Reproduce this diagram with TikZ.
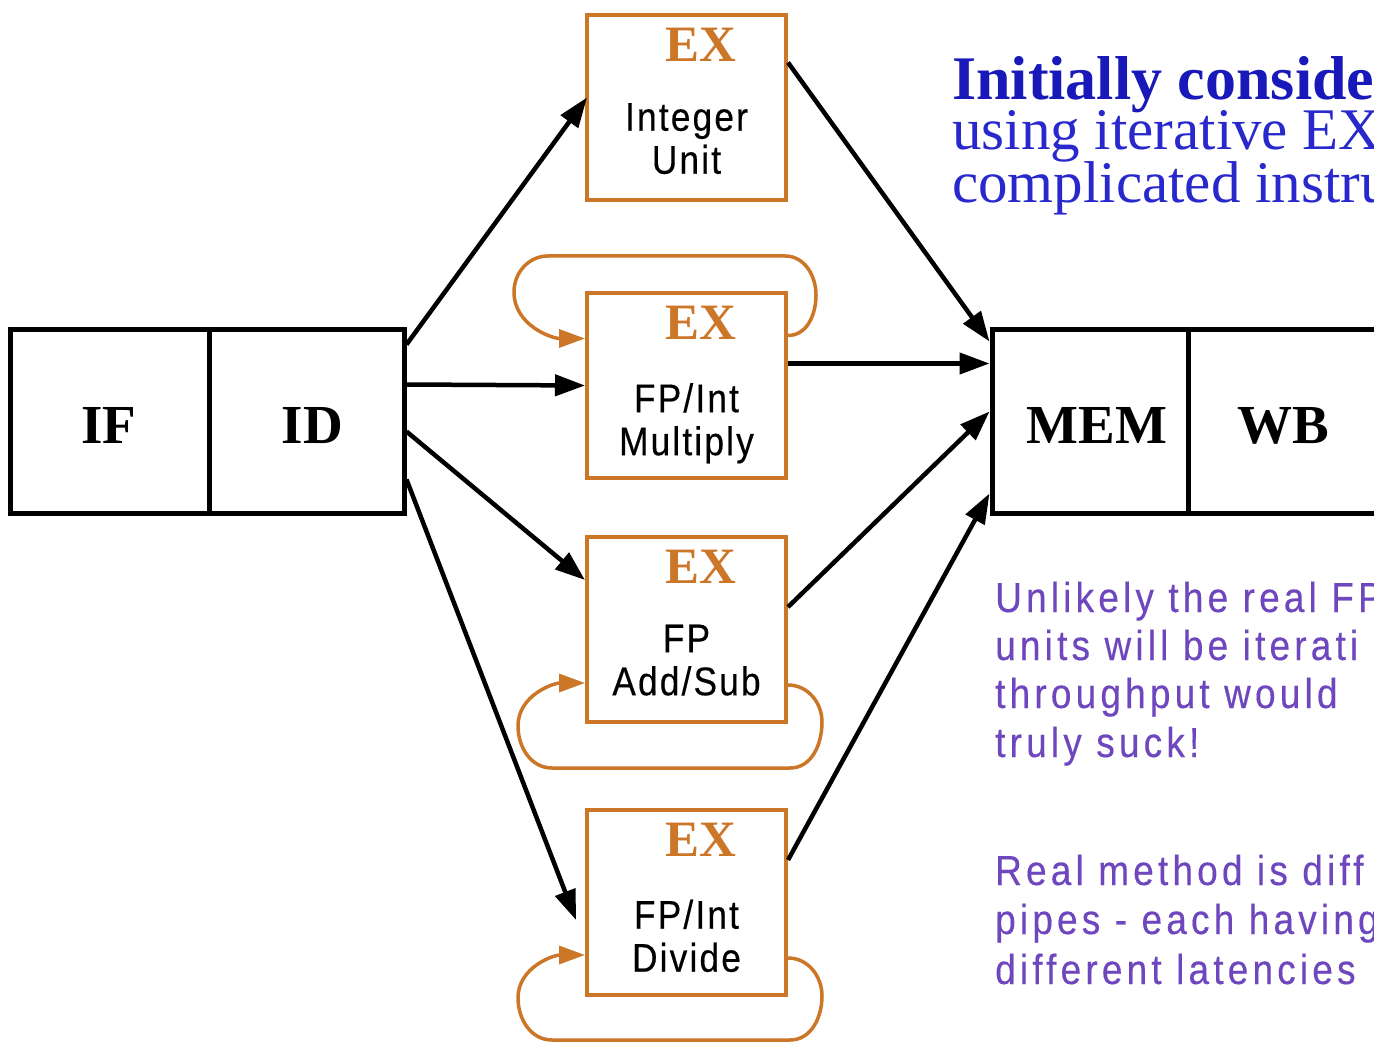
\documentclass[tikz,border=0pt]{standalone}
\usepackage{fontspec}
\setmainfont{Liberation Serif}
\newfontfamily\lblfont[LetterSpace=5.5,FakeStretch=0.88,FakeBold=0.4]{Liberation Sans}
\newfontfamily\purfont[LetterSpace=10,FakeStretch=0.88,FakeBold=0.3]{Liberation Sans}
\usetikzlibrary{arrows.meta,calc}
\definecolor{exor}{RGB}{204,118,40}
\definecolor{txtblue}{RGB}{25,25,185}
\definecolor{txtblue2}{RGB}{40,40,205}
\definecolor{txtpurple}{RGB}{110,70,190}
\begin{document}
\begin{tikzpicture}[x=1pt,y=-1pt,
  stage/.style={draw=black,line width=5pt,minimum height=183pt,inner sep=0pt},
  stagelbl/.style={anchor=north,inner sep=0pt,font=\fontsize{55}{60}\selectfont\bfseries},
  exbox/.style={draw=exor,line width=4pt,minimum width=199pt,minimum height=185pt,inner sep=0pt},
  extxt/.style={anchor=north,inner sep=0pt,text=exor,font=\fontsize{51}{55}\selectfont\bfseries},
  unitlbl/.style={anchor=north,inner sep=0pt,align=center,font=\lblfont\fontsize{40}{43}\selectfont},
  conn/.style={line width=4.5pt,-{Triangle[length=30pt,width=21pt]}},
  loopc/.style={draw=exor,line width=3.5pt,-{Triangle[length=26pt,width=18pt]}},
  bluebold/.style={anchor=base west,inner sep=0pt,text=txtblue,font=\fontsize{62}{60}\selectfont\bfseries},
  bluereg/.style={anchor=base west,inner sep=0pt,text=txtblue2,font=\fontsize{59}{60}\selectfont},
  purp/.style={anchor=base west,inner sep=0pt,text=txtpurple,font=\purfont\fontsize{42}{48}\selectfont}
]
\useasboundingbox (0,0) rectangle (1374,1048);
\clip (0,0) rectangle (1374,1048);
\fill[white] (0,0) rectangle (1374,1048);

% pipeline stages
\node[stage,minimum width=199pt] (IF) at (109.5,421.5) {};
\node[stage,minimum width=195pt] (ID) at (306.5,421.5) {};
\node[stage,minimum width=196pt] (MEM) at (1090,421.5) {};
\node[stage,minimum width=198pt] (WB) at (1287,421.5) {};
\node[stagelbl] (IFt) at ($(IF.north)+(-1,80)$) {IF};
\node[stagelbl] (IDt) at ($(ID.north)+(6,80)$) {ID};
\node[stagelbl] (MEMt) at ($(MEM.north)+(7,80)$) {MEM};
\node[stagelbl] (WBt) at ($(WB.north)+(-4,80)$) {WB};

% EX units
\node[exbox] (INT) at (686.5,107.5) {};
\node[exbox] (MUL) at (686.5,385.5) {};
\node[exbox] (ADD) at (686.5,629) {};
\node[exbox] (DIV) at (686.5,902) {};
\foreach \b in {INT,MUL,ADD,DIV}{
  \node[extxt] (\b ex) at ($(\b.north)+(14,15)$) {EX};
}
\node[unitlbl] (INTl) at ($(INT.north)+(0,90)$) {Integer\\Unit};
\node[unitlbl] (MULl) at ($(MUL.north)+(0,92)$) {FP/Int\\Multiply};
\node[unitlbl] (ADDl) at ($(ADD.north)+(0,90)$) {FP\\Add/Sub};
\node[unitlbl] (DIVl) at ($(DIV.north)+(0,92)$) {FP/Int\\Divide};

% ID -> EX
\draw[conn] ($(ID.east)+(0,-77)$) -- ($(INT.west)+(2,-10)$);
\draw[conn] ($(ID.east)+(0,-37)$) -- (MUL.west);
\draw[conn] ($(ID.east)+(0,10)$) -- ($(ADD.west)+(0,-49)$);
\draw[conn] ($(ID.east)+(0,58)$) -- ($(DIV.west)+(-9,18)$);

% EX -> MEM
\draw[conn] ($(INT.east)+(0,-45)$) -- ($(MEM.west)+(0,-80)$);
\draw[conn] ($(MUL.east)+(0,-22)$) -- ($(MEM.west)+(0,-58)$);
\draw[conn] ($(ADD.east)+(0,-22)$) -- ($(MEM.west)+(0,-10)$);
\draw[conn] ($(DIV.east)+(0,-42)$) -- ($(MEM.west)+(0,72)$);

% iteration loops
\draw[loopc] ($(MUL.east)+(0,-50)$) to[out=0,in=-90] (816,295)
  to[out=90,in=0] (785,256) -- (548,256) to[out=180,in=90] (514,292)
  to[out=-90,in=180] ($(MUL.west)+(0,-47)$);
\draw[loopc] ($(ADD.east)+(0,56)$) to[out=0,in=90] (822,722)
  to[out=-90,in=0] (790,768) -- (552,768) to[out=180,in=-90] (518,726)
  to[out=90,in=180] ($(ADD.west)+(0,54)$);
\draw[loopc] ($(DIV.east)+(0,56)$) to[out=0,in=90] (822,996)
  to[out=-90,in=0] (790,1040) -- (552,1040) to[out=180,in=-90] (518,998)
  to[out=90,in=180] ($(DIV.west)+(0,53)$);

% notes
\node[bluebold] (n1) at (952,100) {Initially conside};
\node[bluereg] (n2) at (952,150) {using iterative EX};
\node[bluereg] (n3) at (952,203) {complicated instru};

\node[purp] (p1) at (995,612) {Unlikely the real FP};
\node[purp] (p2) at (995,660) {units will be iterati};
\node[purp] (p3) at (995,708) {throughput would};
\node[purp] (p4) at (995,757) {truly suck!};
\node[purp] (q1) at (995,885) {Real method is diff};
\node[purp] (q2) at (995,934) {pipes - each having};
\node[purp] (q3) at (995,984) {different latencies};
\end{tikzpicture}
\end{document}
